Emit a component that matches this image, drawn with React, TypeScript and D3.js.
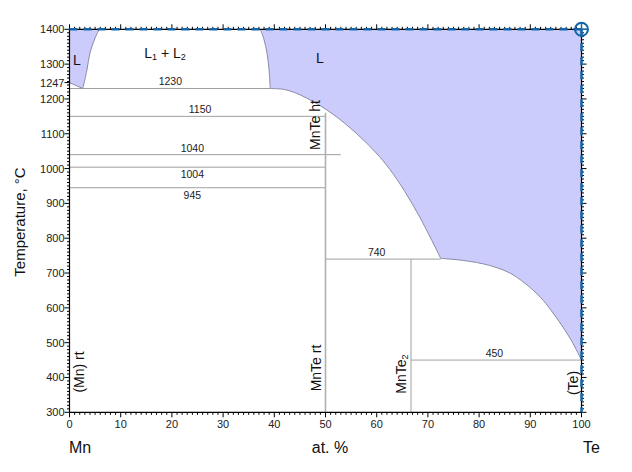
import React from "react";
import * as d3 from "d3";

// ---- data ----
const xTicks = [0, 10, 20, 30, 40, 50, 60, 70, 80, 90, 100];
const yTicks = [300, 400, 500, 600, 700, 800, 900, 1000, 1100, 1200, 1247, 1300, 1400];

// liquidus Mn side
const liqMn: [number, number][] = [[0, 1247], [2.6, 1230]];
// miscibility gap left boundary
const gapLeft: [number, number][] = [[2.6, 1230], [3.4, 1283], [4.0, 1332], [5.0, 1375], [5.8, 1400]];
// miscibility gap right boundary
const gapRight: [number, number][] = [[39.2, 1230], [39.0, 1280], [38.6, 1330], [38.0, 1370], [37.3, 1400]];
// liquidus MnTe
const liqMnTe: [number, number][] = [
  [39.2, 1230], [42, 1227], [45, 1212], [50.3, 1168], [54.8, 1117], [59.7, 1048],
  [62.6, 997], [65.5, 934], [68.5, 858], [71.4, 775], [72.5, 742],
];
// liquidus MnTe2 / Te
const liqTe: [number, number][] = [
  [72.5, 742], [77, 736], [82, 722], [86, 700], [89, 670], [92, 630], [94, 594], [96, 553], [98, 507], [100, 450],
];

// invariant lines
const isoTemps = [1230, 1150, 1040, 1004, 945, 740, 450];
const isoFrom = [0, 0, 0, 0, 0, 50, 66.7];
const isoTo = [39.2, 50, 53, 50, 50, 72.5, 100];
const isoLabelX = [19.7, 25.5, 24, 24, 24, 60, 83];
const isoAbove = [true, true, true, false, false, true, true];

// compounds
const compX = [50, 66.7];
const compTop = [1160, 740];

const W = 632, H = 472;
const x = d3.scaleLinear().domain([0, 100]).range([69.5, 581.5]);
const y = d3.scaleLinear().domain([300, 1400]).range([412.3, 29.3]);

const lineCR = d3.line<[number, number]>().x(d => x(d[0])).y(d => y(d[1])).curve(d3.curveCatmullRom);
const lineLin = d3.line<[number, number]>().x(d => x(d[0])).y(d => y(d[1]));

function joinPaths(parts: string[]): string {
  return parts.map((p, i) => (i === 0 ? p : "L" + p.slice(1))).join("") + "Z";
}
function rev(a: [number, number][]) {
  return a.slice().reverse();
}

export default function App() {
  const leftFill = joinPaths([
    lineLin([[0, 1400], [5.8, 1400]]) || "",
    lineCR(rev(gapLeft)) || "",
    lineLin(rev(liqMn)) || "",
  ]);
  const rightFill = joinPaths([
    lineCR(rev(gapRight)) || "",
    lineCR(liqMnTe) || "",
    lineCR(liqTe) || "",
    lineLin([[100, 450], [100, 1400]]) || "",
  ]);

  const minorX = d3.range(0, 101, 1);
  const minorY = d3.range(300, 1401, 10);

  const font = "Liberation Sans, Arial, sans-serif";
  const fill = "#ccccfc";
  const curveStroke = "#8a8aa8";
  const gray = "#a0a0a0";

  return (
    <div style={{ position: "absolute", left: 0, top: 0 }}>
      <svg width={W} height={H} style={{ display: "block" }} fontFamily={font}>
        <rect width={W} height={H} fill="#fff" />
        <path d={leftFill} fill={fill} stroke="none" />
        <path d={rightFill} fill={fill} stroke="none" />

        {isoTemps.map((t, i) => (
          <line key={"iso" + i} x1={x(isoFrom[i])} x2={x(isoTo[i])} y1={y(t)} y2={y(t)} stroke={gray} strokeWidth={1} />
        ))}
        {isoTemps.map((t, i) => (
          <text key={"isol" + i} x={x(isoLabelX[i])} y={isoAbove[i] ? y(t) - 3 : y(t) + 11} fontSize={10.5} textAnchor="middle" fill="#222">
            {t}
          </text>
        ))}
        {compX.map((c, i) => (
          <line key={"c" + i} x1={x(c)} x2={x(c)} y1={y(300)} y2={y(compTop[i])} stroke={i === 0 ? "#b0b0b0" : gray} strokeWidth={i === 0 ? 1.6 : 1} />
        ))}

        <path d={lineLin(liqMn) || ""} fill="none" stroke={curveStroke} strokeWidth={1} />
        <path d={lineCR(gapLeft) || ""} fill="none" stroke={curveStroke} strokeWidth={1} />
        <path d={lineCR(gapRight) || ""} fill="none" stroke={curveStroke} strokeWidth={1} />
        <path d={lineCR(liqMnTe) || ""} fill="none" stroke={curveStroke} strokeWidth={1} />
        <path d={lineCR(liqTe) || ""} fill="none" stroke={curveStroke} strokeWidth={1} />

        {/* axes */}
        <line x1={x(0)} x2={x(100)} y1={y(300)} y2={y(300)} stroke="#000" strokeWidth={1.2} />
        <line x1={x(0)} x2={x(100)} y1={y(1400)} y2={y(1400)} stroke="#000" strokeWidth={1.2} />
        <line x1={x(0)} x2={x(0)} y1={y(300)} y2={y(1400)} stroke="#000" strokeWidth={1.2} />
        <line x1={x(100)} x2={x(100)} y1={y(300)} y2={y(1400)} stroke="#000" strokeWidth={1.2} />
        {minorX.map(v => (
          <g key={"mx" + v}>
            <line x1={x(v)} x2={x(v)} y1={y(300)} y2={y(300) + (v % 10 === 0 ? 5 : 2.5)} stroke="#000" strokeWidth={1} />
            <line x1={x(v)} x2={x(v)} y1={y(1400)} y2={y(1400) - (v % 10 === 0 ? 5 : 2.5)} stroke="#000" strokeWidth={1} />
          </g>
        ))}
        {minorY.map(v => (
          <g key={"my" + v}>
            <line x1={x(0)} x2={x(0) - (v % 100 === 0 ? 5 : 2.5)} y1={y(v)} y2={y(v)} stroke="#000" strokeWidth={1} />
            <line x1={x(100)} x2={x(100) + (v % 100 === 0 ? 5 : 2.5)} y1={y(v)} y2={y(v)} stroke="#000" strokeWidth={1} />
          </g>
        ))}
        <line x1={x(0)} x2={x(0) - 5} y1={y(1247)} y2={y(1247)} stroke="#000" strokeWidth={1} />
        {yTicks.map(v => (
          <text key={"yt" + v} x={x(0) - 5} y={y(v) + 4} fontSize={11} textAnchor="end" fill="#222">{v}</text>
        ))}
        {xTicks.map(v => (
          <text key={"xt" + v} x={x(v)} y={y(300) + 16} fontSize={11} textAnchor="middle" fill="#222">{v}</text>
        ))}

        {/* blue dashed boundary */}
        <line x1={x(0)} x2={x(100)} y1={y(1400)} y2={y(1400)} stroke="#1565a8" strokeWidth={2.5} strokeDasharray="8,6" />
        <line x1={x(100)} x2={x(100)} y1={y(1400)} y2={y(300)} stroke="#1565a8" strokeWidth={2.5} strokeDasharray="8,6" />
        <circle cx={x(100)} cy={y(1400)} r={6.5} fill="none" stroke="#1565a8" strokeWidth={2} />
        <line x1={x(100) - 6.5} x2={x(100) + 6.5} y1={y(1400)} y2={y(1400)} stroke="#1565a8" strokeWidth={1.5} />
        <line x1={x(100)} x2={x(100)} y1={y(1400) - 6.5} y2={y(1400) + 6.5} stroke="#1565a8" strokeWidth={1.5} />

        {/* phase labels */}
        <text x={77} y={65} fontSize={14} textAnchor="middle" fill="#111">L</text>
        <text x={320} y={63} fontSize={14} textAnchor="middle" fill="#111">L</text>
        <text x={165} y={58} fontSize={14} textAnchor="middle" fill="#111">
          L<tspan fontSize={9} dy={2}>1</tspan><tspan dy={-2}> + L</tspan><tspan fontSize={9} dy={2}>2</tspan>
        </text>
        <text transform={`translate(320,125) rotate(-90)`} fontSize={14} textAnchor="middle" fill="#111">MnTe ht</text>
        <text transform={`translate(321,368) rotate(-90)`} fontSize={14} textAnchor="middle" fill="#111">MnTe rt</text>
        <text transform={`translate(406,374) rotate(-90)`} fontSize={14} textAnchor="middle" fill="#111">
          MnTe<tspan fontSize={9} dy={2}>2</tspan>
        </text>
        <text transform={`translate(84,372) rotate(-90)`} fontSize={14} textAnchor="middle" fill="#111">(Mn) rt</text>
        <text transform={`translate(578,383) rotate(-90)`} fontSize={14} textAnchor="middle" fill="#111">(Te)</text>

        {/* axis titles */}
        <text transform={`translate(25,222) rotate(-90)`} fontSize={15} textAnchor="middle" fill="#111">Temperature, °C</text>
        <text x={69} y={453} fontSize={16} fill="#111">Mn</text>
        <text x={330} y={453} fontSize={16} textAnchor="middle" fill="#111">at. %</text>
        <text x={583} y={453} fontSize={16} fill="#111">Te</text>
      </svg>
    </div>
  );
}
